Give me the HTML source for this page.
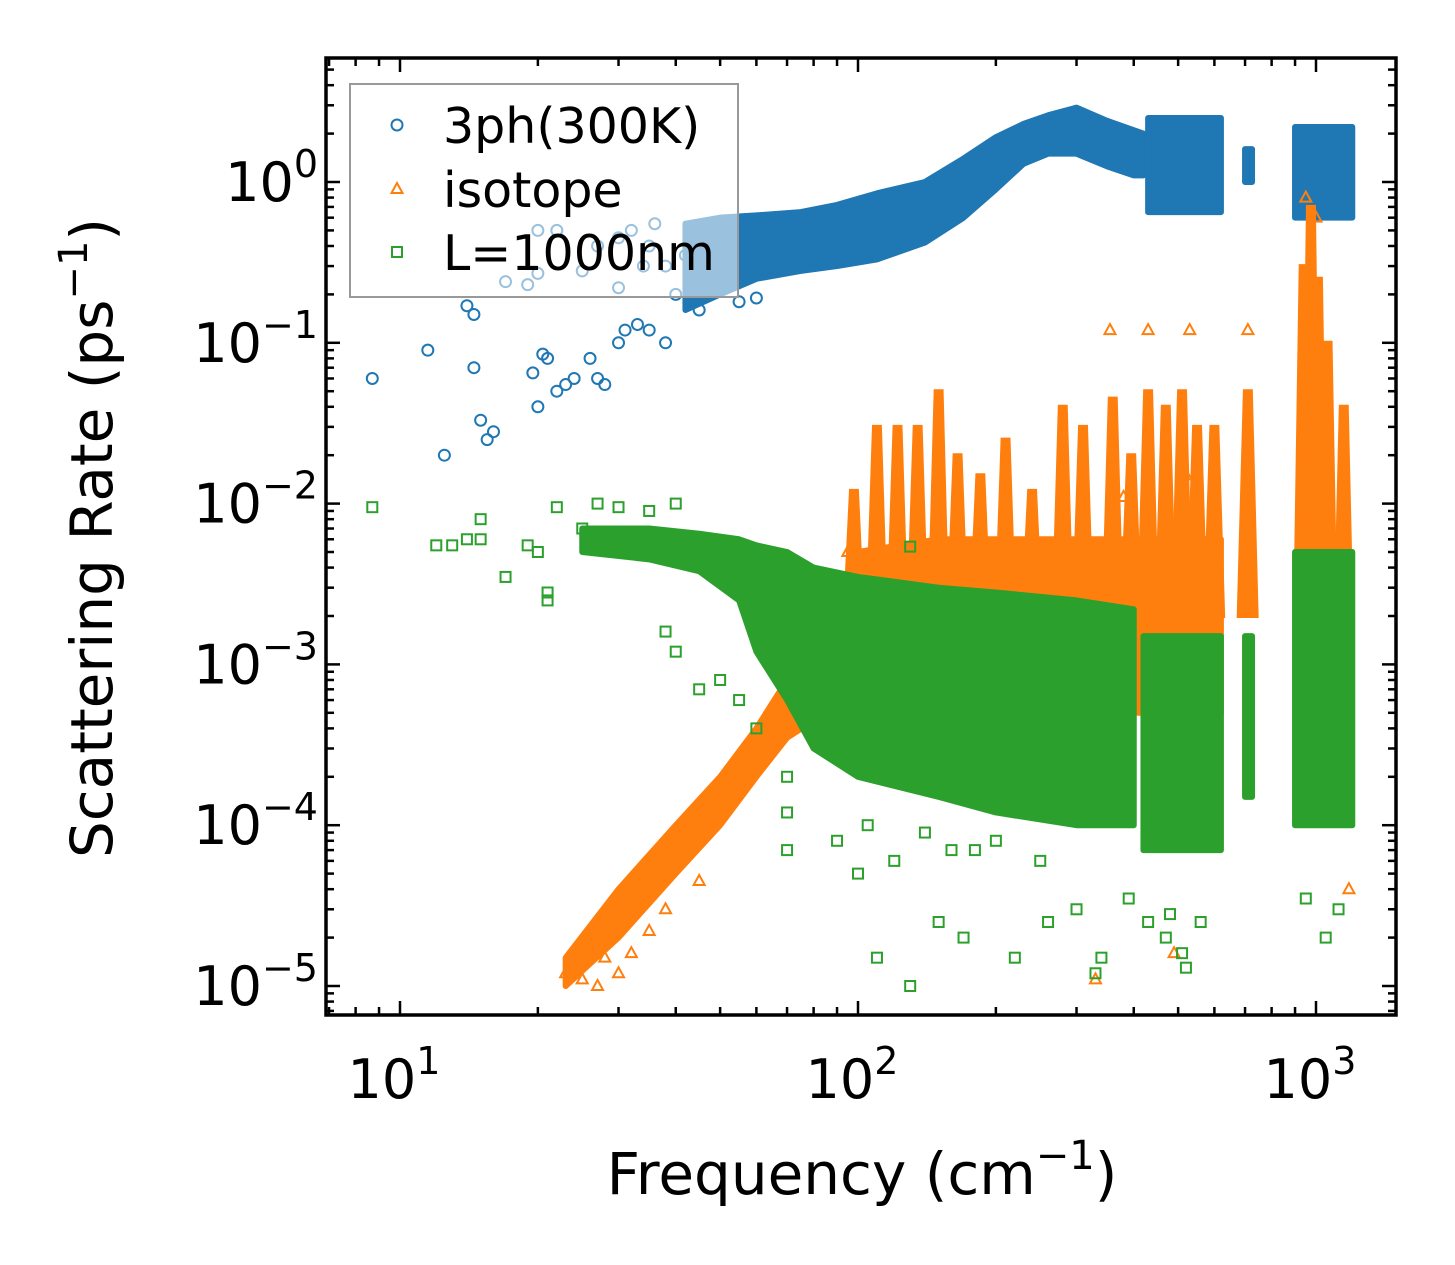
<!DOCTYPE html>
<html><head><meta charset="utf-8"><style>
html,body{margin:0;padding:0;background:#fff;}
svg{display:block;font-family:"DejaVu Sans","Liberation Sans",sans-serif;}
</style></head><body>
<svg id="chart" width="1455" height="1265" viewBox="0 0 1455 1265" xmlns="http://www.w3.org/2000/svg">
<rect width="1455" height="1265" fill="#fff"/>
<defs><clipPath id="clip"><rect x="326" y="58" width="1070" height="957"/></clipPath></defs>
<g id="marks" clip-path="url(#clip)"></g>
<g id="axes"></g>
<g id="legend"></g>
</svg>
<script>
// ---- data (frequency cm^-1, rate ps^-1) ----
const blueBandF  = [42,50,60,75,90,110,140,170,200,230,260,300,350,400,420];
const blueBandLo = [0.16,0.2,0.25,0.28,0.3,0.33,0.42,0.6,0.9,1.3,1.5,1.5,1.25,1.1,1.1];
const blueBandHi = [0.55,0.6,0.62,0.65,0.72,0.85,1.0,1.4,1.9,2.3,2.6,2.9,2.4,2.1,2.0];
const blueClusterF  = [[430,620],[700,725],[900,1200]];
const blueClusterLo = [0.65,1.0,0.6];
const blueClusterHi = [2.5,1.6,2.2];
const blueF = [8.7,11.5,12.5,14.5,14.5,15,15.5,16,14,19.5,20,20.5,21,22,23,24,26,27,28,30,31,33,35,38,40,45,55,60,17,19,20,25,27,30,32,35,36,20,22,38,42,48,30,34];
const blueV = [0.06,0.09,0.02,0.15,0.07,0.033,0.025,0.028,0.17,0.065,0.04,0.085,0.08,0.05,0.055,0.06,0.08,0.06,0.055,0.1,0.12,0.13,0.12,0.1,0.2,0.16,0.18,0.19,0.24,0.23,0.27,0.28,0.4,0.45,0.5,0.4,0.55,0.5,0.5,0.3,0.35,0.25,0.22,0.3];
const orangeLineF  = [23,30,40,50,60,70,85];
const orangeLineLo = [1e-5,2e-5,5e-5,1e-4,2e-4,3.5e-4,5e-4];
const orangeLineHi = [1.5e-5,4e-5,1e-4,2e-4,4e-4,8e-4,1.5e-3];
const orangeBaseF  = [85,100,150,200,300,400,620];
const orangeBaseLo = [6e-4,5e-4,5e-4,5e-4,5e-4,5e-4,5e-4];
const orangeBaseHi = [2e-3,5e-3,6e-3,6e-3,6e-3,6e-3,6e-3];
const spikeF   = [98,110,122,135,150,165,185,210,240,280,310,360,395,430,470,510,550,600,710,940,975,1010,1060,1150];
const spikeTop = [0.012,0.03,0.03,0.03,0.05,0.02,0.015,0.025,0.012,0.04,0.03,0.045,0.02,0.05,0.04,0.05,0.03,0.03,0.05,0.3,0.7,0.25,0.1,0.04];
const orangeF = [23,24,25,27,28,30,32,35,355,430,530,710,95,380,520,1180,1160,330,490,950,1000,38,45];
const orangeV = [1.2e-5,1.4e-5,1.1e-5,1e-5,1.5e-5,1.2e-5,1.6e-5,2.2e-5,0.12,0.12,0.12,0.12,0.005,0.011,0.015,4e-5,7e-4,1.1e-5,1.6e-5,0.8,0.6,3e-5,4.5e-5];
const greenBandF  = [25,35,45,55,60,70,80,100,150,200,300,400];
const greenBandLo = [5e-3,4.5e-3,3.8e-3,2.5e-3,1.2e-3,6e-4,3e-4,2e-4,1.5e-4,1.2e-4,1e-4,1e-4];
const greenBandHi = [7e-3,7e-3,6.5e-3,6e-3,5.5e-3,5e-3,4e-3,3.5e-3,3e-3,2.8e-3,2.5e-3,2.2e-3];
const greenClusterF  = [[420,620],[700,725],[900,1200]];
const greenClusterLo = [7e-5,1.5e-4,1e-4];
const greenClusterHi = [1.5e-3,1.5e-3,5e-3];
const greenF = [8.7,12,13,14,15,15,17,19,20,21,21,22,25,27,30,35,40,38,40,45,50,55,60,70,70,70,100,110,130,150,170,220,260,300,330,340,390,430,470,480,510,520,560,950,1050,1120,130,90,120,160,250,200,180,140,105];
const greenV = [0.0095,0.0055,0.0055,0.006,0.008,0.006,0.0035,0.0055,0.005,0.0025,0.0028,0.0095,0.007,0.01,0.0095,0.009,0.01,0.0016,0.0012,0.0007,0.0008,0.0006,0.0004,0.0002,0.00012,0.00007,0.00005,0.000015,0.00001,0.000025,0.00002,0.000015,0.000025,0.00003,0.000012,0.000015,0.000035,0.000025,0.00002,0.000028,0.000016,0.000013,0.000025,0.000035,0.00002,0.00003,0.0054,0.00008,0.00006,0.00007,0.00006,0.00008,0.00007,0.00009,0.0001];
const xTickVals = [10,100,1000];
const xTickLabels = ["1","2","3"];
const yTickVals = [1,0.1,0.01,0.001,0.0001,0.00001];
const yTickLabels = ["0","\u22121","\u22122","\u22123","\u22124","\u22125"];

const NS="http://www.w3.org/2000/svg";
const X=f=>400+458*(Math.log10(f)-1);
const Y=v=>182-160.8*Math.log10(v);
const BLUE="#1f77b4",ORANGE="#ff7f0e",GREEN="#2ca02c";
const marks=document.getElementById('marks'),axes=document.getElementById('axes'),legend=document.getElementById('legend');
function mk(tag,attrs,parent){const e=document.createElementNS(NS,tag);for(const k in attrs)e.setAttribute(k,attrs[k]);parent.appendChild(e);return e;}
function band(fs,lo,hi,color,name){
  let pts=fs.map((f,i)=>X(f)+','+Y(hi[i]));
  for(let i=fs.length-1;i>=0;i--)pts.push(X(fs[i])+','+Y(lo[i]));
  const p=mk('polygon',{points:pts.join(' '),fill:color,stroke:color,'stroke-width':6,'stroke-linejoin':'round'},marks);
  
  
}
function marker(type,f,v,color,parent){
  const x=X(f),y=Y(v);let e;
  if(type==='o')e=mk('circle',{cx:x,cy:y,r:5.5,fill:'none',stroke:color,'stroke-width':2},parent);
  else if(type==='s')e=mk('rect',{x:x-5,y:y-5,width:10,height:10,fill:'none',stroke:color,'stroke-width':2},parent);
  else e=mk('polygon',{points:`${x},${y-6} ${x+5.5},${y+4} ${x-5.5},${y+4}`,fill:'none',stroke:color,'stroke-width':2},parent);
  return e;
}
band(blueBandF,blueBandLo,blueBandHi,BLUE,'3ph-band');
blueClusterF.forEach((r,i)=>band(r,[blueClusterLo[i],blueClusterLo[i]],[blueClusterHi[i],blueClusterHi[i]],BLUE,'3ph-cluster'));
blueF.forEach((f,i)=>{const e=marker('o',f,blueV[i],BLUE,marks);
  
  });
band(orangeLineF,orangeLineLo,orangeLineHi,ORANGE,'isotope-low-band');
band(orangeBaseF,orangeBaseLo,orangeBaseHi,ORANGE,'isotope-base-band');
spikeF.forEach((f,i)=>{
  const lo=f>900?1e-3:2e-3;
  const pts=[X(f*0.955)+','+Y(lo),X(f*0.985)+','+Y(spikeTop[i]),X(f*1.015)+','+Y(spikeTop[i]),X(f*1.045)+','+Y(lo)].join(' ');
  const p=mk('polygon',{points:pts,fill:ORANGE,stroke:ORANGE,'stroke-width':4},marks);
  
  
});
orangeF.forEach((f,i)=>{const e=marker('^',f,orangeV[i],ORANGE,marks);
  
  });
band(greenBandF,greenBandLo,greenBandHi,GREEN,'boundary-band');
greenClusterF.forEach((r,i)=>band(r,[greenClusterLo[i],greenClusterLo[i]],[greenClusterHi[i],greenClusterHi[i]],GREEN,'boundary-cluster'));
greenF.forEach((f,i)=>{const e=marker('s',f,greenV[i],GREEN,marks);
  
  });

const fr=mk('rect',{x:326,y:58,width:1070,height:957,fill:'none',stroke:'#000','stroke-width':3.5},axes);


for(let d=0;d<=3;d++)for(let m=1;m<10;m++){
  const f=m*Math.pow(10,d);const x=X(f);if(x<326||x>1396)continue;
  const L=m===1?14:8;
  mk('line',{x1:x,y1:1015,x2:x,y2:1015-L,stroke:'#000','stroke-width':2.5},axes);
  mk('line',{x1:x,y1:58,x2:x,y2:58+L,stroke:'#000','stroke-width':2.5},axes);
}
for(let d=-6;d<=1;d++)for(let m=1;m<10;m++){
  const v=m*Math.pow(10,d);const y=Y(v);if(y<58||y>1015)continue;
  const L=m===1?14:8;
  mk('line',{x1:326,y1:y,x2:326+L,y2:y,stroke:'#000','stroke-width':2.5},axes);
  mk('line',{x1:1396,y1:y,x2:1396-L,y2:y,stroke:'#000','stroke-width':2.5},axes);
}
xTickVals.forEach((v,i)=>{
  const t=mk('text',{x:X(v)-6,y:1098,'font-size':54,'text-anchor':'middle'},axes);
  t.innerHTML='10<tspan dy="-24" font-size="38">'+xTickLabels[i]+'</tspan>';
  
  
});
yTickVals.forEach((v,i)=>{
  const t=mk('text',{x:318,y:Y(v)+19,'font-size':54,'text-anchor':'end'},axes);
  t.innerHTML='10<tspan dy="-24" font-size="38">'+yTickLabels[i]+'</tspan>';
  
  
});
const xt=mk('text',{x:862,y:1194,'font-size':58,'text-anchor':'middle'},axes);
xt.innerHTML='Frequency (cm<tspan dy="-25" font-size="40">\u22121</tspan><tspan dy="25">)</tspan>';


const yt=mk('text',{x:0,y:0,'font-size':58,'text-anchor':'middle',transform:'translate(112,538) rotate(-90)'},axes);
yt.innerHTML='Scattering Rate (ps<tspan dy="-25" font-size="40">\u22121</tspan><tspan dy="25">)</tspan>';



const lb=mk('rect',{x:350,y:84,width:388,height:213,fill:'#fff','fill-opacity':0.55,stroke:'#999','stroke-width':2},legend);


const entries=[['o',BLUE,'3ph(300K)',125],['^',ORANGE,'isotope',189],['s',GREEN,'L=1000nm',252]];
entries.forEach(en=>{
  const g=mk('g',{},legend);
  
  
  const x=397,y=en[3];
  if(en[0]==='o')mk('circle',{cx:x,cy:y,r:5.5,fill:'none',stroke:en[1],'stroke-width':2},g);
  else if(en[0]==='s')mk('rect',{x:x-5,y:y-5,width:10,height:10,fill:'none',stroke:en[1],'stroke-width':2},g);
  else mk('polygon',{points:`${x},${y-6} ${x+5.5},${y+4} ${x-5.5},${y+4}`,fill:'none',stroke:en[1],'stroke-width':2},g);
  const t=mk('text',{x:443,y:y+18,'font-size':49},g);t.textContent=en[2];
});
</script>
</body></html>
